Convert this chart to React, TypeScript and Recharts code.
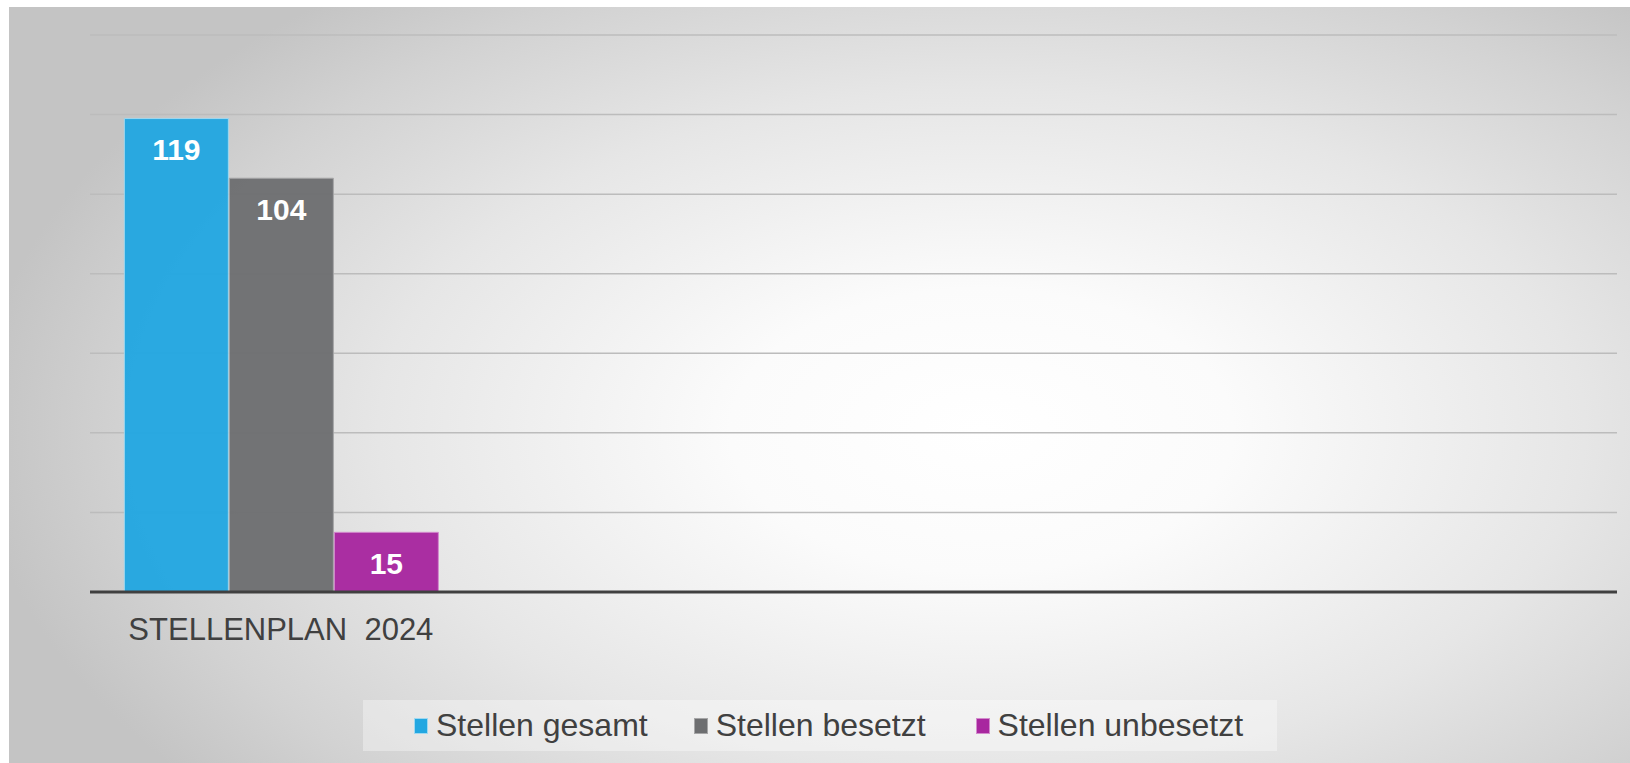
import React from "react";
import { BarChart, Bar, XAxis, YAxis, CartesianGrid, Legend, LabelList } from "recharts";

const categories = ["STELLENPLAN\u00A0\u00A02024", "", "", ""];
const gesamt = [119, null, null, null];
const besetzt = [104, null, null, null];
const unbesetzt = [15, null, null, null];
const yTicks = [0, 20, 40, 60, 80, 100, 120, 140];

const seriesInfo = [
  { key: "gesamt", name: "Stellen gesamt", color: "#22A7E1", border: "#9fd8f0" },
  { key: "besetzt", name: "Stellen besetzt", color: "#6D6E70", border: "#a6a6a7" },
  { key: "unbesetzt", name: "Stellen unbesetzt", color: "#A8279F", border: "#d38bcd" },
];

const legendGaps = [46, 50, 0];

const data = categories.map((c, i) => ({
  name: c,
  gesamt: gesamt[i],
  besetzt: besetzt[i],
  unbesetzt: unbesetzt[i],
}));

const FONT = "'Liberation Sans', Arial, sans-serif";

const LegendContent = () => (
  <div
    style={{
      width: 914,
      height: 51,
      background: "rgba(255,255,255,0.35)",
      display: "flex",
      alignItems: "center",
      justifyContent: "flex-start",
      fontFamily: FONT,
      fontSize: 32,
      color: "#404040",
      boxSizing: "border-box",
      paddingLeft: 51,
    }}
  >
    {seriesInfo.map((s, i) => (
      <div key={s.key} style={{ display: "flex", alignItems: "center", marginRight: legendGaps[i] }}>
        <div
          style={{
            width: 12,
            height: 14,
            background: s.color,
            border: `1px solid ${s.border}`,
            marginRight: 8,
          }}
        />
        <span style={{ lineHeight: "51px" }}>{s.name}</span>
      </div>
    ))}
  </div>
);

export default function App() {
  return (
    <div
      style={{
        position: "absolute",
        left: 9,
        top: 7,
        width: 1621,
        height: 756,
        background:
          "radial-gradient(ellipse 62% 75% at 60% 56%, #ffffff 0%, #fbfbfb 25%, #e6e6e6 60%, #d2d2d2 85%, #c4c4c4 100%)",
      }}
    >
      <BarChart
        width={1621}
        height={756}
        data={data}
        margin={{ top: 28, right: 13, left: 81, bottom: 12 }}
        barCategoryGap="9%"
        barGap={1}
      >
        <CartesianGrid vertical={false} stroke="#bcbcbc" strokeWidth={1.5} />
        <YAxis hide domain={[0, 140]} ticks={yTicks} />
        <XAxis
          dataKey="name"
          height={108}
          axisLine={{ stroke: "#404040", strokeWidth: 3 }}
          tickLine={false}
          tickSize={6}
          tickMargin={20}
          tick={{ fill: "#404040", fontSize: 31, fontFamily: FONT }}
          interval={0}
        />
        <Legend
          verticalAlign="bottom"
          content={<LegendContent />}
          wrapperStyle={{ left: 354, width: 914, height: 51, bottom: 12 }}
        />
        {seriesInfo.map((s) => (
          <Bar
            key={s.key}
            dataKey={s.key}
            name={s.name}
            fill={s.color}
            fillOpacity={0.96}
            stroke={s.border}
            strokeWidth={1}
            isAnimationActive={false}
          >
            <LabelList
              dataKey={s.key}
              position="insideTop"
              offset={20}
              fill="#ffffff"
              fontSize={30}
              fontWeight="bold"
              fontFamily={FONT}
            />
          </Bar>
        ))}
      </BarChart>
    </div>
  );
}
